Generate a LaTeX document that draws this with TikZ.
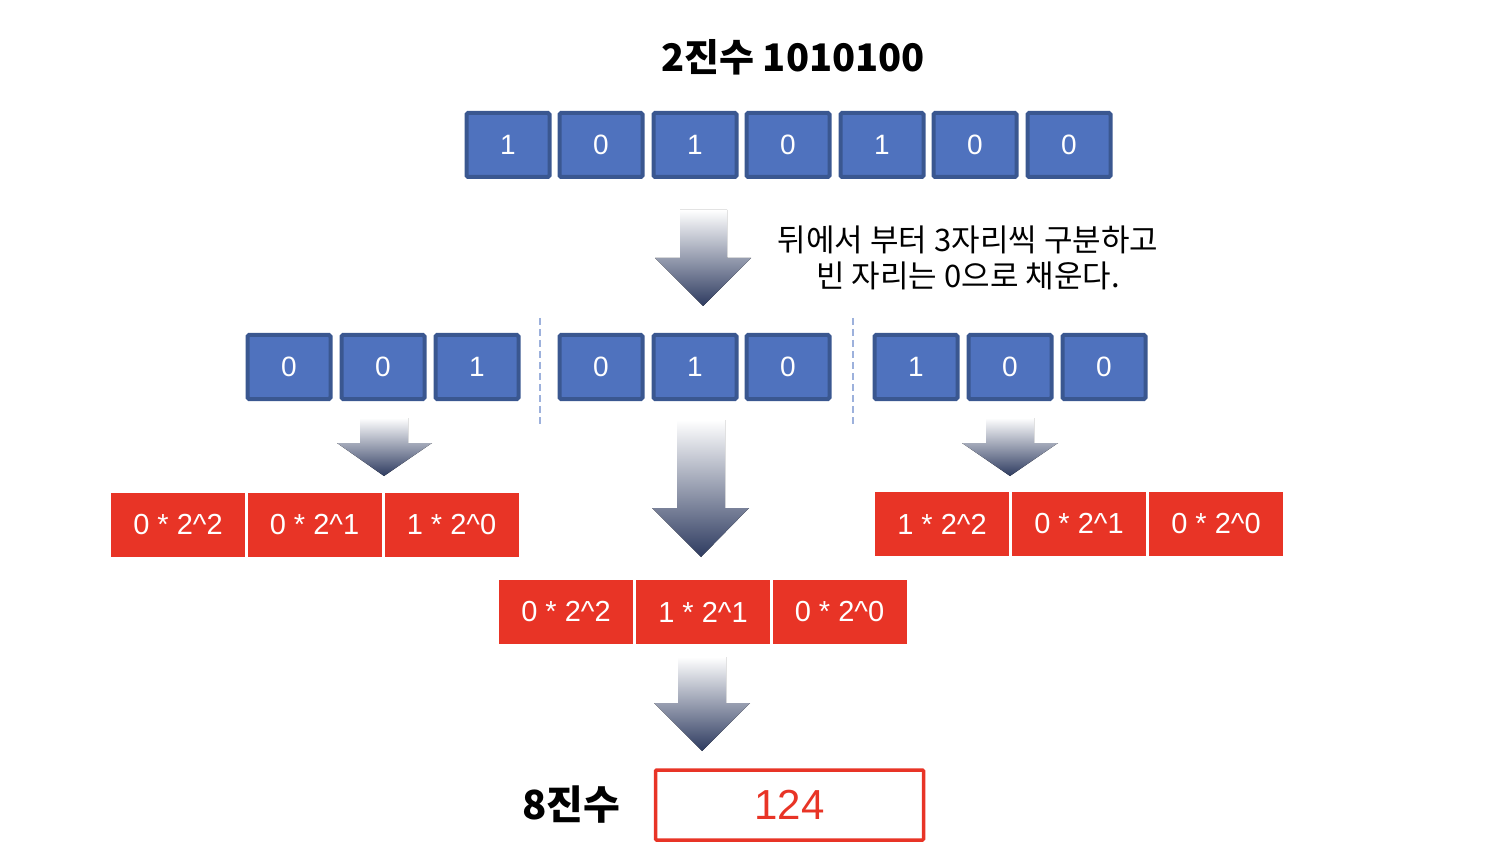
\documentclass[tikz,border=0pt]{standalone}
\usepackage{fontspec}
\setmainfont{Liberation Sans}
\newfontfamily\kr{Noto Sans CJK KR}
\usetikzlibrary{positioning}
\definecolor{bfill}{HTML}{4F72BE}
\definecolor{bdraw}{HTML}{3A5790}
\definecolor{rfill}{HTML}{E83426}
\definecolor{navy}{HTML}{2E3B60}
\definecolor{dash}{HTML}{9DB1DC}
\begin{document}
\begin{tikzpicture}[x=1pt,y=-1pt,
  bbox/.style={draw=bdraw,line width=4pt,fill=bfill,rounded corners=1.5pt,minimum width=83pt,minimum height=64pt,inner sep=0pt,text=white,font=\fontsize{28}{30}\selectfont},
  rbox/.style={fill=rfill,minimum width=134pt,minimum height=64pt,inner sep=0pt,text=white,font=\fontsize{29}{30}\selectfont},
  sep/.style={draw=dash,line width=1.8pt,dash pattern=on 7pt off 4pt},
  garrow/.style={top color=white,bottom color=navy,draw=none}]
\useasboundingbox (0,0) rectangle (1488,858);
% title
\node[font=\kr\bfseries\fontsize{38}{40}\selectfont] (title) at (793,57) {2진수 1010100};
% top row
\foreach \v/\x [count=\i] in {1/508,0/601,1/695,0/788,1/882,0/975,0/1069}
  \node[bbox] (t\i) at (\x,145) {\v};
% arrow 1
\fill[garrow] (680,210) -- (727,210) -- (727,258) -- (751,258) -- (703,306) -- (655,258) -- (680,258) -- cycle;
\node[font=\kr\fontsize{31}{36}\selectfont,align=center] (note) at (968,258) {뒤에서 부터 3자리씩 구분하고\\빈 자리는 0으로 채운다.};
% second row
\foreach \v/\x [count=\i] in {0/289,0/383,1/477,0/601,1/695,0/788,1/916,0/1010,0/1104}
  \node[bbox] (s\i) at (\x,367) {\v};
\coordinate (d1a) at (540,318); \coordinate (d1b) at (540,424);
\coordinate (d2a) at (853,318); \coordinate (d2b) at (853,424);
\draw[sep] (d1a) -- (d1b);
\draw[sep] (d2a) -- (d2b);
% small arrows
\fill[garrow] (360,418) -- (408,418) -- (408,443) -- (432,443) -- (384,476) -- (337,443) -- (360,443) -- cycle;
\fill[garrow] (986,418) -- (1034,418) -- (1034,443) -- (1058,443) -- (1010,476) -- (962,443) -- (986,443) -- cycle;
\fill[garrow] (677,420) -- (725,420) -- (725,508) -- (749,508) -- (701,557) -- (652,508) -- (677,508) -- cycle;
% red rows
\foreach \t/\x [count=\i] in {0 * 2\^{}2/178,0 * 2\^{}1/314.5,1 * 2\^{}0/451.5}
  \node[rbox] (l\i) at (\x,525) {\t};
\foreach \t/\x [count=\i] in {1 * 2\^{}2/942,0 * 2\^{}1/1079,0 * 2\^{}0/1216}
  \node[rbox] (r\i) at (\x,524) {\t};
\foreach \t/\x [count=\i] in {0 * 2\^{}2/566,1 * 2\^{}1/703,0 * 2\^{}0/839.5}
  \node[rbox] (m\i) at (\x,612) {\t};
% bottom arrow
\fill[garrow] (678,657) -- (726,657) -- (726,703) -- (750,703) -- (702,751) -- (654,703) -- (678,703) -- cycle;
\node[font=\kr\bfseries\fontsize{40}{42}\selectfont] (oct) at (571,805) {8진수};
\node[draw=rfill,line width=3.5pt,rounded corners=1pt,minimum width=268pt,minimum height=70pt,inner sep=0pt,text=rfill,font=\fontsize{42}{44}\selectfont] (res) at (789.5,805) {124};
\end{tikzpicture}
\end{document}
